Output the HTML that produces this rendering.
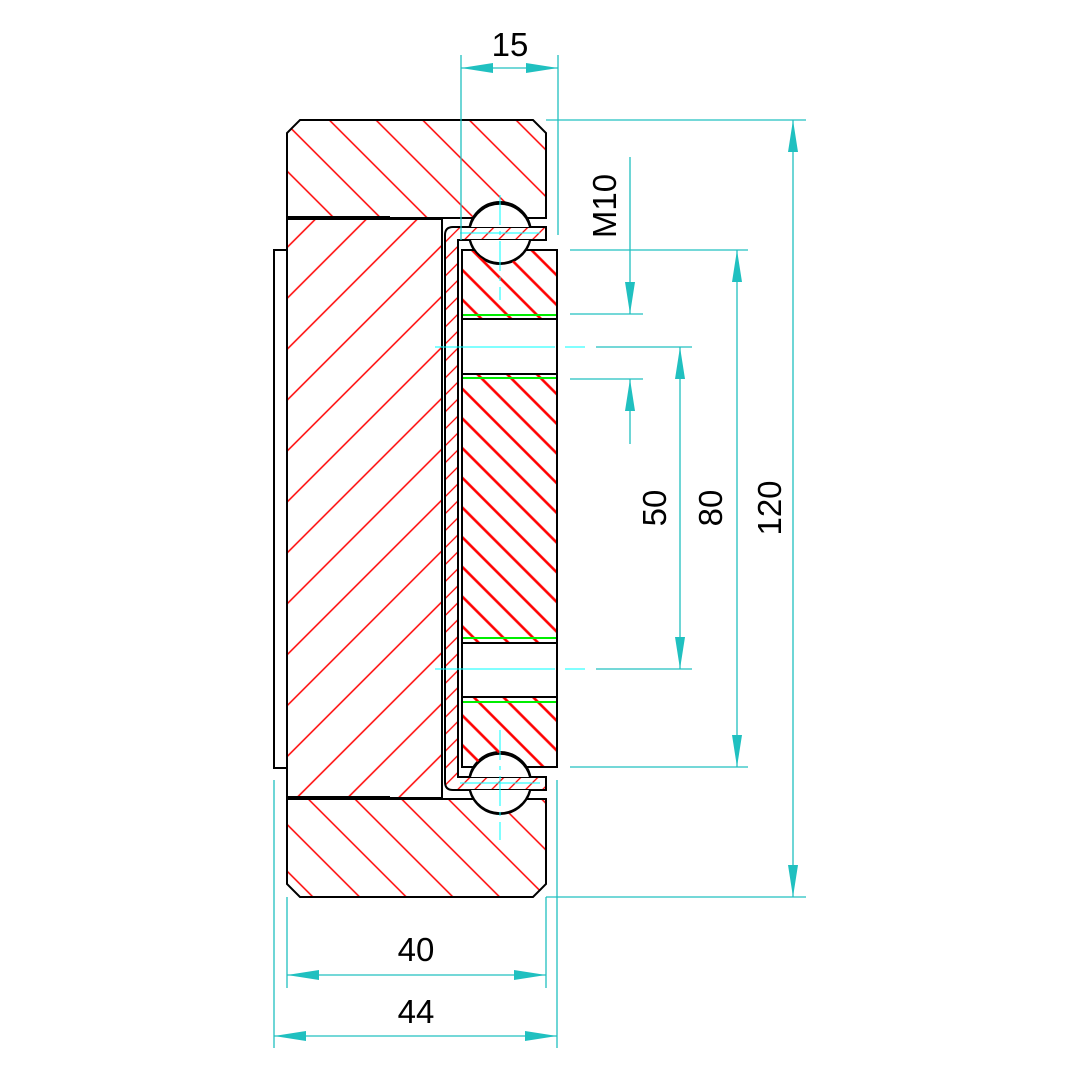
<!DOCTYPE html>
<html><head><meta charset="utf-8"><style>html,body{margin:0;padding:0;background:#fff}svg{display:block}</style></head>
<body>
<svg width="1080" height="1080" viewBox="0 0 1080 1080" xmlns="http://www.w3.org/2000/svg" font-family="Liberation Sans, sans-serif">
<defs>
<pattern id="hA" patternUnits="userSpaceOnUse" width="33" height="33" patternTransform="rotate(-45)"><line x1="16" y1="0" x2="16" y2="33" stroke="#f00" stroke-width="1.5"/></pattern>
<pattern id="hB" patternUnits="userSpaceOnUse" width="36" height="36" patternTransform="rotate(45)"><line x1="18" y1="0" x2="18" y2="36" stroke="#f00" stroke-width="1.5"/></pattern>
<pattern id="hC" patternUnits="userSpaceOnUse" width="21" height="21" patternTransform="rotate(-45)"><line x1="10" y1="0" x2="10" y2="21" stroke="#f00" stroke-width="2.6"/></pattern>
<pattern id="hD" patternUnits="userSpaceOnUse" width="12" height="12" patternTransform="rotate(45)"><line x1="6" y1="0" x2="6" y2="12" stroke="#f00" stroke-width="1.3"/></pattern>
</defs>
<path d="M300,120 L533,120 L546,133 L546,218 L287,218 L287,133 Z" fill="url(#hA)" stroke="#000" stroke-width="2"/>
<path d="M287,799 L546,799 L546,884 L533,897 L300,897 L287,884 Z" fill="url(#hA)" stroke="#000" stroke-width="2"/>
<rect x="287" y="219" width="155" height="579" fill="url(#hB)" stroke="#000" stroke-width="2"/>
<line x1="287" y1="218" x2="390" y2="218" stroke="#000" stroke-width="4"/>
<line x1="287" y1="798" x2="390" y2="798" stroke="#000" stroke-width="4"/>
<rect x="274" y="250" width="13" height="518" fill="none" stroke="#000" stroke-width="2"/>
<circle cx="500" cy="233" r="31" fill="#fff" stroke="#000" stroke-width="2"/>
<circle cx="500" cy="783" r="31" fill="#fff" stroke="#000" stroke-width="2"/>
<path d="M546,227 L453,227 Q445,227 445,235 L445,782 Q445,790 453,790 L546,790 L546,777 L458,777 L458,240 L546,240 Z" fill="#fff" stroke="none"/>
<path d="M546,227 L453,227 Q445,227 445,235 L445,782 Q445,790 453,790 L546,790 L546,777 L458,777 L458,240 L546,240 Z" fill="url(#hD)" stroke="#000" stroke-width="2"/>
<rect x="462" y="250" width="95" height="69" fill="url(#hC)" stroke="#000" stroke-width="2"/>
<rect x="462" y="374" width="95" height="269" fill="url(#hC)" stroke="#000" stroke-width="2"/>
<rect x="462" y="697" width="95" height="70" fill="url(#hC)" stroke="#000" stroke-width="2"/>
<rect x="462" y="319" width="95" height="55" fill="#fff" stroke="#000" stroke-width="2"/>
<rect x="462" y="643" width="95" height="54" fill="#fff" stroke="#000" stroke-width="2"/>
<g stroke="#00ee00" stroke-width="2"><line x1="463" y1="315" x2="556" y2="315"/><line x1="463" y1="378" x2="556" y2="378"/><line x1="463" y1="638" x2="556" y2="638"/><line x1="463" y1="702" x2="556" y2="702"/></g>
<path d="M470,227 A31,31 0 0 1 530,227" fill="#fff" stroke="#000" stroke-width="2"/>
<path d="M470,240 A31,31 0 0 0 530,240 Z" fill="#fff" stroke="none"/>
<path d="M470,240 A31,31 0 0 0 530,240" fill="none" stroke="#000" stroke-width="2"/>
<path d="M470,777 A31,31 0 0 1 530,777 Z" fill="#fff" stroke="none"/>
<path d="M470,777 A31,31 0 0 1 530,777" fill="none" stroke="#000" stroke-width="2"/>
<path d="M470,790 A31,31 0 0 0 530,790" fill="#fff" stroke="#000" stroke-width="2"/>
<g stroke="#00ffff" stroke-width="1">
<line x1="500" y1="195" x2="500" y2="300" stroke-dasharray="30,6,4,6"/>
<line x1="500" y1="730" x2="500" y2="840" stroke-dasharray="30,6,4,6"/>
<line x1="460" y1="233" x2="540" y2="233"/><line x1="460" y1="783" x2="540" y2="783"/>
<line x1="435" y1="347" x2="585" y2="347" stroke-dasharray="120,10"/>
<line x1="435" y1="669" x2="585" y2="669" stroke-dasharray="120,10"/>
</g>
<g stroke="#20c0c0" stroke-width="1.3" fill="none">
<line x1="461" y1="55" x2="461" y2="240"/><line x1="558" y1="55" x2="558" y2="235"/><line x1="461" y1="68" x2="558" y2="68"/>
<line x1="546" y1="120" x2="806" y2="120"/><line x1="546" y1="897" x2="806" y2="897"/><line x1="793" y1="120" x2="793" y2="897"/>
<line x1="570" y1="250" x2="748" y2="250"/><line x1="570" y1="767" x2="748" y2="767"/><line x1="737" y1="250" x2="737" y2="767"/>
<line x1="596" y1="347" x2="692" y2="347"/><line x1="596" y1="669" x2="692" y2="669"/><line x1="680" y1="347" x2="680" y2="669"/>
<line x1="570" y1="314" x2="643" y2="314"/><line x1="570" y1="379" x2="643" y2="379"/><line x1="630" y1="157" x2="630" y2="314"/><line x1="630" y1="379" x2="630" y2="444"/>
<line x1="287" y1="897" x2="287" y2="988"/><line x1="546" y1="897" x2="546" y2="988"/><line x1="287" y1="975" x2="546" y2="975"/>
<line x1="274" y1="780" x2="274" y2="1048"/><line x1="557" y1="780" x2="557" y2="1048"/><line x1="274" y1="1036" x2="557" y2="1036"/>
</g>
<g fill="#20c0c0">
<polygon points="461,68 493,63 493,73"/><polygon points="558,68 526,63 526,73"/>
<polygon points="793,120 788,152 798,152"/><polygon points="793,897 788,865 798,865"/>
<polygon points="737,250 732,282 742,282"/><polygon points="737,767 732,735 742,735"/>
<polygon points="680,347 675,379 685,379"/><polygon points="680,669 675,637 685,637"/>
<polygon points="630,314 625,282 635,282"/><polygon points="630,379 625,411 635,411"/>
<polygon points="287,975 319,970 319,980"/><polygon points="546,975 514,970 514,980"/>
<polygon points="274,1036 306,1031 306,1041"/><polygon points="557,1036 525,1031 525,1041"/>
</g>
<g fill="#000" font-size="33" text-anchor="middle">
<text x="510" y="56">15</text>
<text x="416" y="961">40</text>
<text x="416" y="1023">44</text>
<text transform="translate(781,508) rotate(-90)">120</text>
<text transform="translate(722,508) rotate(-90)">80</text>
<text transform="translate(666,508) rotate(-90)">50</text>
<text transform="translate(616,206) rotate(-90)">M10</text>
</g>
</svg>
</body></html>
